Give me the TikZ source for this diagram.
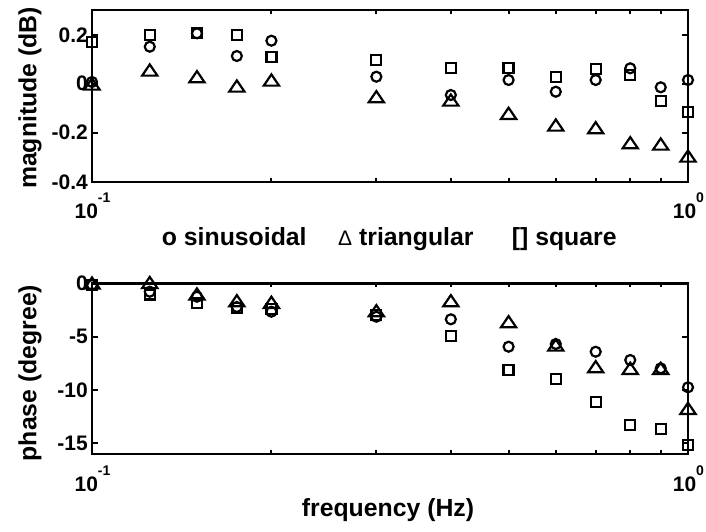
\documentclass[tikz,border=0pt]{standalone}
\usepackage{fontspec}
\setmainfont{Liberation Sans}
\begin{document}
\begin{tikzpicture}[x=1pt,y=-1pt,
  frame/.style={line width=2.6pt},
  tickline/.style={line width=2pt},
  mk/.style={line width=2.2pt, draw=black},
  circm/.style={mk, circle, inner sep=0pt, minimum size=10pt},
  sqm/.style={mk, rectangle, inner sep=0pt, minimum size=10pt},
  tri/.pic={\draw[mk] (-7.6,5.6) -- (0,-5.6) -- (7.6,5.6) -- cycle;},
  ticklbl/.style={font=\fontsize{21}{21}\selectfont\bfseries, inner sep=0pt},
  axlbl/.style={font=\fontsize{24.8}{25}\selectfont\bfseries, inner sep=0pt},
]
\useasboundingbox (0,0) rectangle (706,531);
% frames
\draw[frame] (92,10) rectangle (688,182);
\draw[frame] (92,283.3) rectangle (688,454);
% x ticks
\foreach \x in {271.41,376.36,450.83,508.59,555.78,595.68,630.24,660.73}{
  \draw[tickline] (\x,10) -- ++(0,4);
  \draw[tickline] (\x,182) -- ++(0,-4);
  \draw[tickline] (\x,283.3) -- ++(0,4);
  \draw[tickline] (\x,454) -- ++(0,-4);
}
% y ticks
\foreach \y in {35.1,83.6,132.7,336.7,390,443.4}{
  \draw[tickline] (92,\y) -- ++(6,0);
  \draw[tickline] (688,\y) -- ++(-6,0);
}
% y tick labels
\node[ticklbl, anchor=east] (t1) at (88,35.1) {0.2};
\node[ticklbl, anchor=east] (t2) at (88,83.6) {0};
\node[ticklbl, anchor=east] (t3) at (88,132.7) {-0.2};
\node[ticklbl, anchor=east] (t4) at (88,181.8) {-0.4};
\node[ticklbl, anchor=east] (b1) at (88,283.3) {0};
\node[ticklbl, anchor=east] (b2) at (88,336.7) {-5};
\node[ticklbl, anchor=east] (b3) at (88,390) {-10};
\node[ticklbl, anchor=east] (b4) at (88,443.4) {-15};
% x tick labels
\node[ticklbl, anchor=base] (xt1) at (92.5,218) {10\raisebox{16pt}{\fontsize{14}{14}\selectfont -1}};
\node[ticklbl, anchor=base] (xt2) at (688.4,218) {10\raisebox{16pt}{\fontsize{14}{14}\selectfont 0}};
\node[ticklbl, anchor=base] (xb1) at (92.5,491.5) {10\raisebox{16pt}{\fontsize{14}{14}\selectfont -1}};
\node[ticklbl, anchor=base] (xb2) at (688.4,491.5) {10\raisebox{16pt}{\fontsize{14}{14}\selectfont 0}};
% axis labels
\node[axlbl, rotate=90] (ylab1) at (30,98) {magnitude (dB)};
\node[axlbl, rotate=90] (ylab2) at (30,373) {phase (degree)};
\node[axlbl, anchor=base] (xlab) at (388,516.5) {frequency (Hz)};
% legend
\node[axlbl, anchor=base west] (lg1) at (161.7,245) {o sinusoidal};
\node[axlbl, anchor=base west] (lg2) at (338,245) {{\fontsize{21}{21}\selectfont\mdseries Δ} triangular};
\node[axlbl, anchor=base west] (lg3) at (511.7,245) {[] square};
% magnitude data
\foreach \x/\c/\s/\t [count=\i] in {
  92/82/41.7/84, 149.76/46.7/35/70, 196.95/33.3/33.3/76.7, 236.85/56/35/86,
  271.41/40.7/57.3/80, 376.36/76.7/60/96.7, 450.83/95/68.3/100,
  508.59/80/67.7/113.3, 555.78/91.7/77.3/125, 595.68/80/69/127.7,
  630.24/68.3/75/142.7, 660.73/87.3/100.7/144, 688/80/112.3/156}{
  \node[circm] (mc\i) at (\x,\c) {};
  \pic at (\x,\t) {tri};
  \node[sqm] (ms\i) at (\x,\s) {};
}
% phase data
\foreach \x/\c/\s/\t [count=\i] in {
  92/285/285/283, 149.76/291.7/294.5/282.5, 196.95/296.7/303.3/294, 236.85/307/308.3/300.7,
  271.41/311.7/309.3/302.3, 376.36/316.7/315/310.7, 450.83/319.3/335.7/300.7,
  508.59/346.7/370/321.7, 555.78/344/379.3/345, 595.68/351.7/401.7/366.7,
  630.24/360/425/368.3, 660.73/368.3/429.3/368.3, 688/387.3/445/408.3}{
  \node[circm] (pc\i) at (\x,\c) {};
  \pic at (\x,\t) {tri};
  \node[sqm] (ps\i) at (\x,\s) {};
}
\end{tikzpicture}
\end{document}
